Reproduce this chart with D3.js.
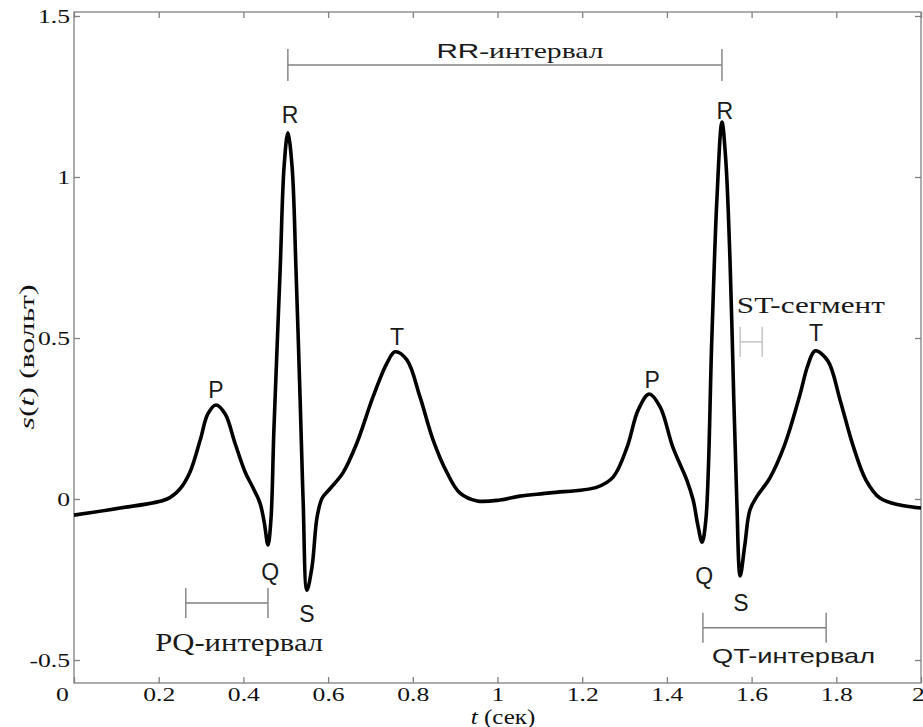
<!DOCTYPE html>
<html>
<head>
<meta charset="utf-8">
<script src="https://cdn.jsdelivr.net/npm/d3@7"></script>
<style>
  body { margin: 0; background: #fff; }
  svg { display: block; }
</style>
</head>
<body>
<svg id="mainsvg" width="923" height="727"></svg>
<script>
// ECG trace (seconds, volts)
const tSec = [0, 0.109, 0.220, 0.250, 0.274, 0.298, 0.316, 0.335, 0.357, 0.380, 0.404, 0.423, 0.439, 0.449, 0.458,
  0.465, 0.472, 0.487, 0.496, 0.505, 0.515, 0.524, 0.534, 0.541, 0.550, 0.562, 0.574, 0.586, 0.604, 0.635, 0.668,
  0.706, 0.739, 0.758, 0.786, 0.817, 0.848, 0.881, 0.911, 0.952, 1.006, 1.053, 1.124, 1.235, 1.273, 1.306, 1.332,
  1.358, 1.384, 1.414, 1.447, 1.462, 1.473, 1.483, 1.492, 1.506, 1.518, 1.530, 1.539, 1.549, 1.558, 1.565, 1.573,
  1.584, 1.596, 1.613, 1.643, 1.678, 1.714, 1.733, 1.750, 1.780, 1.809, 1.839, 1.870, 1.903, 1.950, 2.0];
const sVolt = [-0.050, -0.028, 0, 0.031, 0.084, 0.183, 0.264, 0.292, 0.264, 0.174, 0.084, 0.034, -0.012, -0.071, -0.143,
  -0.065, 0.214, 0.720, 1.031, 1.137, 1.031, 0.720, 0.307, -0.003, -0.283, -0.211, -0.056, 0.003, 0.031, 0.081, 0.174,
  0.317, 0.422, 0.457, 0.432, 0.317, 0.183, 0.081, 0.019, -0.006, -0.003, 0.009, 0.019, 0.037, 0.068, 0.161, 0.276,
  0.326, 0.286, 0.161, 0.059, -0.003, -0.081, -0.134, -0.065, 0.494, 0.929, 1.171, 1.053, 0.742, 0.307, -0.003, -0.239,
  -0.143, -0.034, 0.009, 0.065, 0.168, 0.323, 0.416, 0.460, 0.429, 0.307, 0.168, 0.059, 0.003, -0.019, -0.028];

const xTicks = [0, 0.2, 0.4, 0.6, 0.8, 1, 1.2, 1.4, 1.6, 1.8, 2];
const yTicks = [-0.5, 0, 0.5, 1, 1.5];

// wave labels: letter, t, s
const waveNames = ['P', 'R', 'Q', 'S', 'T', 'P', 'R', 'Q', 'S', 'T'];
const waveT = [0.335, 0.510, 0.463, 0.550, 0.763, 1.365, 1.537, 1.488, 1.575, 1.752];
const waveS = [0.314, 1.168, -0.252, -0.382, 0.478, 0.345, 1.180, -0.264, -0.348, 0.491];

// interval brackets
const intNames = ['RR', 'PQ', 'QT', 'ST'];
const intStart = [0.505, 0.264, 1.485, 1.573];
const intEnd = [1.530, 0.458, 1.776, 1.625];
const intLevel = [1.348, -0.323, -0.400, 0.488];

const svg = d3.select('#mainsvg');
const g = svg.append('g');

const x = d3.scaleLinear().domain([0, 2]).range([74, 921]);
const y = d3.scaleLinear().domain([-0.5, 1.5]).range([660, 16]);
const yBot = 683, yTop = 12;

const fit = (sel, w) => sel.attr('textLength', w).attr('lengthAdjust', 'spacingAndGlyphs');
const stretch = (sel, k) => sel.each(function () {
  d3.select(this).attr('textLength', this.getComputedTextLength() * k).attr('lengthAdjust', 'spacingAndGlyphs');
});

// axes (box with inward ticks)
const axisColor = '#808080';
const fmt = d => String(d);
const xAxis = g.append('g').attr('transform', `translate(0,${yBot})`)
  .call(d3.axisBottom(x).tickValues(xTicks).tickFormat(fmt).tickSizeInner(-6).tickSizeOuter(0).tickPadding(5));
const yAxis = g.append('g').attr('transform', 'translate(74,0)')
  .call(d3.axisLeft(y).tickValues(yTicks).tickFormat(fmt).tickSizeInner(-6).tickSizeOuter(0).tickPadding(4));
g.append('g').attr('transform', `translate(0,${yTop})`)
  .call(d3.axisTop(x).tickValues(xTicks).tickFormat('').tickSizeInner(-6).tickSizeOuter(0));
g.append('g').attr('transform', `translate(${x(2)},0)`)
  .call(d3.axisRight(y).tickValues(yTicks).tickFormat('').tickSizeInner(-6).tickSizeOuter(0));
g.append('rect').attr('x', 74).attr('y', yTop).attr('width', x(2) - 74).attr('height', yBot - yTop)
  .attr('fill', 'none').attr('stroke', axisColor).attr('stroke-width', 1.3);
g.selectAll('.domain').remove();
g.selectAll('.tick line').attr('stroke', axisColor).attr('stroke-width', 1.3);
g.selectAll('.tick text').attr('font-family', 'Liberation Serif').attr('font-size', 19).attr('fill', '#111');
stretch(xAxis.selectAll('.tick text'), 1.35);
stretch(yAxis.selectAll('.tick text'), 1.35);
xAxis.selectAll('.tick text').filter(d => d === 0).attr('dx', -12);
xAxis.selectAll('.tick text').filter(d => d === 2).attr('dx', -3);

// ECG curve
const pts = tSec.map((t, i) => [t, sVolt[i]]);
const line = d3.line().x(d => x(d[0])).y(d => y(d[1])).curve(d3.curveCatmullRom.alpha(0.5));
g.append('path').datum(pts).attr('d', line)
  .attr('fill', 'none').attr('stroke', '#000').attr('stroke-width', 3.6).attr('stroke-linejoin', 'round');

// wave letters
g.selectAll('.wave').data(waveNames).join('text').attr('class', 'wave')
  .attr('x', (d, i) => x(waveT[i])).attr('y', (d, i) => y(waveS[i]))
  .attr('text-anchor', 'middle').attr('font-family', 'Liberation Sans').attr('font-size', 23)
  .attr('fill', '#1a1a1a').text(d => d);

// interval brackets
const cap = [16, 15, 15, 15];
const brColor = ['#808080', '#808080', '#808080', '#c0c0c0'];
const br = g.selectAll('.bracket').data(intNames).join('g').attr('class', 'bracket')
  .attr('stroke', (d, i) => brColor[i]).attr('stroke-width', 1.4);
br.append('line').attr('x1', (d, i) => x(intStart[i])).attr('x2', (d, i) => x(intEnd[i]))
  .attr('y1', (d, i) => y(intLevel[i])).attr('y2', (d, i) => y(intLevel[i]));
br.append('line').attr('x1', (d, i) => x(intStart[i])).attr('x2', (d, i) => x(intStart[i]))
  .attr('y1', (d, i) => y(intLevel[i]) - cap[i]).attr('y2', (d, i) => y(intLevel[i]) + cap[i]);
br.append('line').attr('x1', (d, i) => x(intEnd[i])).attr('x2', (d, i) => x(intEnd[i]))
  .attr('y1', (d, i) => y(intLevel[i]) - cap[i]).attr('y2', (d, i) => y(intLevel[i]) + cap[i]);

// interval captions
const cap1 = g.append('text').attr('x', x(1.053)).attr('y', y(1.370)).attr('text-anchor', 'middle')
  .attr('font-size', 21).attr('fill', '#1a1a1a');
cap1.append('tspan').attr('font-family', 'Liberation Sans').text('RR');
cap1.append('tspan').attr('font-family', 'Liberation Serif').text('-интервал');
fit(cap1, 167);

const cap2 = g.append('text').attr('x', x(0.390)).attr('y', y(-0.472)).attr('text-anchor', 'middle')
  .attr('font-family', 'Liberation Serif').attr('font-size', 25).attr('fill', '#1a1a1a').text('PQ-интервал');
fit(cap2, 168);

const cap3 = g.append('text').attr('x', x(1.699)).attr('y', y(-0.509)).attr('text-anchor', 'middle')
  .attr('font-family', 'Liberation Sans').attr('font-size', 21).attr('fill', '#1a1a1a').text('QT-интервал');
fit(cap3, 163);

const cap4 = g.append('text').attr('x', x(1.740)).attr('y', y(0.578)).attr('text-anchor', 'middle')
  .attr('font-family', 'Liberation Serif').attr('font-size', 24).attr('fill', '#1a1a1a').text('ST-сегмент');
fit(cap4, 148);

// axis titles
const xt = g.append('text').attr('x', 503).attr('y', 724).attr('text-anchor', 'middle')
  .attr('font-family', 'Liberation Serif').attr('font-size', 20).attr('fill', '#111');
xt.append('tspan').attr('font-style', 'italic').text('t');
xt.append('tspan').text(' (сек)');
stretch(xt, 1.25);

const yt = g.append('text').attr('transform', 'translate(34,357) rotate(-90)').attr('text-anchor', 'middle')
  .attr('font-family', 'Liberation Serif').attr('font-size', 22).attr('fill', '#111');
yt.append('tspan').attr('font-style', 'italic').text('s');
yt.append('tspan').text('(');
yt.append('tspan').attr('font-style', 'italic').text('t');
yt.append('tspan').text(') (вольт)');
fit(yt, 145);
</script>
</body>
</html>
